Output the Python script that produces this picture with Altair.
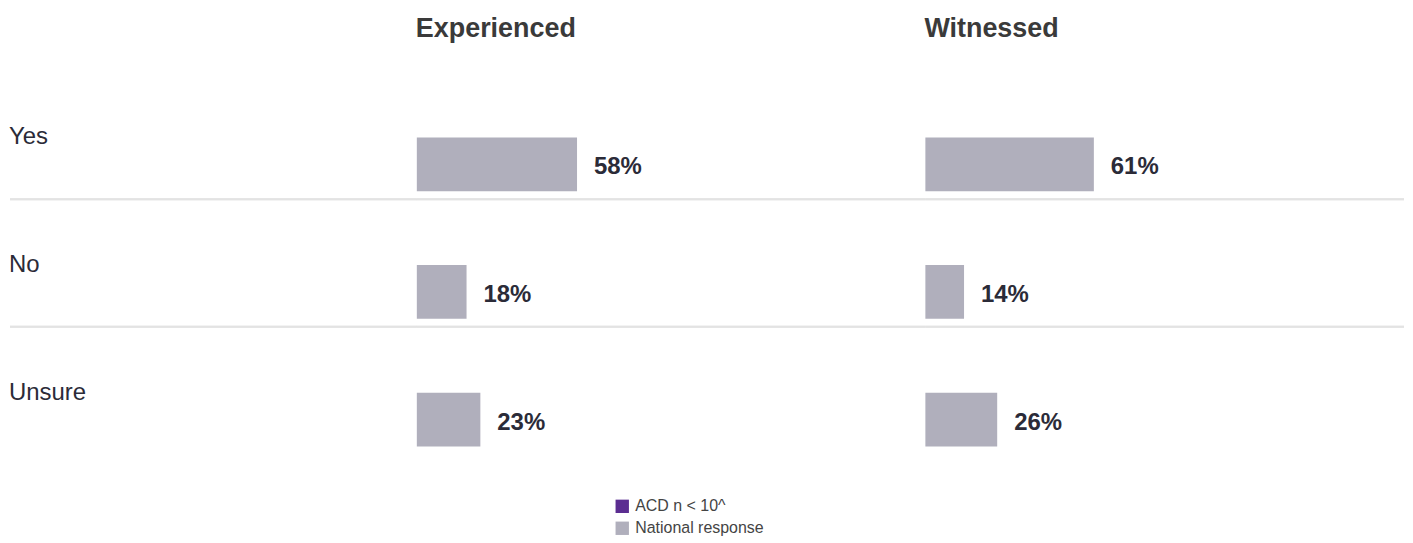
import altair as alt
import pandas as pd

panels = ["Experienced", "Witnessed"]
responses = ["Yes", "No", "Unsure"]
experienced = [58, 18, 23]
witnessed = [61, 14, 26]
legend_labels = ["ACD n < 10^", "National response"]
legend_colors = ["#5b2d91", "#b0afbc"]
separator_rows = ["No", "Unsure"]

rows = []
for p, vals in zip(panels, [experienced, witnessed]):
    for r, v in zip(responses, vals):
        rows.append({"panel": p, "response": r, "value": v,
                     "label": f"{v}%", "series": "National response"})
df = pd.DataFrame(rows)

FONT = "Liberation Sans"
PX_PER_PCT = 2.77
ROW_STEP = 128
yscale = alt.Scale(domain=responses, paddingInner=0, paddingOuter=0)
ypos = alt.Y("response:N", scale=yscale, sort=responses, axis=None)


def separators(width, start=0):
    return alt.Chart(df).transform_filter(
        alt.FieldOneOfPredicate(field="response", oneOf=separator_rows)
    ).mark_rule(color="#e3e3e3", strokeWidth=2).encode(
        y=alt.Y("response:N", scale=yscale, sort=responses, axis=None,
                bandPosition=0),
        x=alt.value(start),
        x2=alt.value(width),
    )


# row-label column
label_w = 410
row_labels = alt.Chart(df).transform_filter(
    alt.datum.panel == panels[0]
).mark_text(align="left", baseline="alphabetic", yOffset=9, fontSize=24,
            color="#2b2b38", font=FONT).encode(
    y=ypos,
    x=alt.value(1),
    text="response:N",
)
label_col = alt.layer(separators(label_w, 2), row_labels).properties(
    width=label_w, height=ROW_STEP * len(responses))


def panel(name, width):
    xscale = alt.Scale(domain=[0, width / PX_PER_PCT], nice=False, zero=True)
    sub = alt.Chart(df).transform_filter(alt.datum.panel == name)
    bars = sub.mark_bar(height=54, yOffset=29).encode(
        x=alt.X("value:Q", scale=xscale, axis=None),
        y=ypos,
        color=alt.Color(
            "series:N",
            scale=alt.Scale(domain=legend_labels, range=legend_colors),
            legend=alt.Legend(title=None, orient="none",
                              legendX=608, legendY=428,
                              direction="vertical",
                              symbolType="square", symbolSize=180,
                              symbolStrokeWidth=0, symbolOpacity=1,
                              labelFontSize=16, labelColor="#444444",
                              labelFont=FONT, rowPadding=6,
                              labelOffset=5)),
    )
    texts = sub.mark_text(align="left", baseline="middle", dx=17, yOffset=32,
                          fontSize=24, fontWeight="bold", color="#2b2b38",
                          font=FONT).encode(
        x=alt.X("value:Q", scale=xscale, axis=None),
        y=ypos,
        text="label:N",
    )
    return alt.layer(separators(width), bars, texts).properties(
        width=width, height=ROW_STEP * len(responses),
        title=alt.TitleParams(name, anchor="start", fontSize=27,
                              fontWeight="bold", color="#3a3a3a", font=FONT,
                              baseline="alphabetic", offset=8),
    )


chart = alt.hconcat(
    label_col, panel(panels[0], 510), panel(panels[1], 480),
    spacing=0, bounds="flush",
).properties(
    padding={"left": 0, "top": 6, "right": 0, "bottom": 0},
).configure(font=FONT).configure_view(strokeWidth=0, stroke="transparent")

chart.save("out.html", embed_options={"renderer": "svg", "actions": False})
